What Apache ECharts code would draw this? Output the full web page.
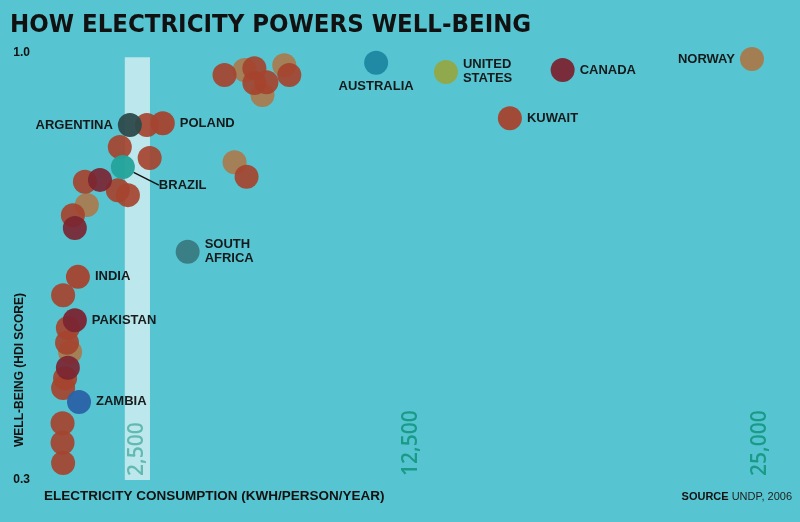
<html>
<head>
<meta charset="utf-8">
<title>How electricity powers well-being</title>
<script src="https://cdn.jsdelivr.net/npm/echarts@6/dist/echarts.min.js"></script>
</head>
<body style="margin:0">
<div id="main" style="width:800px;height:522px"></div>
<script type="text/javascript">
// labelled countries
var countries = ['NORWAY', 'CANADA', 'UNITED\nSTATES', 'AUSTRALIA', 'KUWAIT', 'ARGENTINA', 'POLAND', 'BRAZIL', 'SOUTH\nAFRICA', 'INDIA', 'PAKISTAN', 'ZAMBIA'];
var countryKwh = [24710, 17930, 13750, 11250, 16040, 2430, 3610, 2180, 4500, 570, 460, 610];
var countryHdi = [0.990, 0.972, 0.969, 0.984, 0.893, 0.882, 0.885, 0.813, 0.674, 0.633, 0.562, 0.428];

// unlabelled countries, grouped by dot colour
var redKwh = [5820, 6890, 6890, 7320, 8140, 3040, 2070, 3140, 820, 2000, 2360, 390, 6610, 40, 210, 180, 110, 40, 20, 20, 40];
var redHdi = [0.964, 0.975, 0.951, 0.952, 0.964, 0.882, 0.846, 0.828, 0.789, 0.775, 0.767, 0.734, 0.797, 0.603, 0.549, 0.525, 0.467, 0.451, 0.393, 0.361, 0.328];
var tanKwh = [6540, 7180, 7960, 890, 6180, 290];
var tanHdi = [0.972, 0.931, 0.980, 0.751, 0.821, 0.510];
var maroonKwh = [1360, 460, 210];
var maroonHdi = [0.792, 0.713, 0.484];

var xTicks = [2500, 12500, 25000];
var yTicks = [0.3, 1.0];
var band = [2250, 3150];

var RED = '#a5432f', TAN = '#a97a4c', MAROON = '#7b2532';
var countryColor = {
    'NORWAY': TAN, 'CANADA': MAROON, 'UNITED\nSTATES': '#93a845', 'AUSTRALIA': '#1e86a0',
    'KUWAIT': RED, 'ARGENTINA': '#2c4a4b', 'POLAND': RED, 'BRAZIL': '#23a39a',
    'SOUTH\nAFRICA': '#3a7b82', 'INDIA': RED, 'PAKISTAN': MAROON, 'ZAMBIA': '#2a62a8'
};
var labelPos = {'NORWAY': 'left', 'ARGENTINA': 'left', 'AUSTRALIA': 'bottom'};

function pts(xs, ys) {
    var out = [];
    for (var i = 0; i < xs.length; i++) out.push([xs[i], ys[i]]);
    return out;
}

var labelled = [];
for (var i = 0; i < countries.length; i++) {
    var n = countries[i];
    var item = {
        name: n,
        value: [countryKwh[i], countryHdi[i]],
        itemStyle: {color: countryColor[n]},
        label: {position: labelPos[n] || 'right', distance: 5}
    };
    if (n == 'AUSTRALIA') item.label.offset = [13, 0];
    if (n == 'BRAZIL') item.labelLine = {show: true, lineStyle: {color: '#111', width: 1.5}};
    labelled.push(item);
}

var font = "'Liberation Sans', Arial, sans-serif";
var narrow = "'DejaVu Sans Condensed', sans-serif";
var dot = {type: 'scatter', symbolSize: 24, emphasis: {disabled: true}};

var myChart = echarts.init(document.getElementById('main'));
myChart.setOption({
    backgroundColor: '#57c5d1',
    animation: false,
    title: [{
        text: 'HOW ELECTRICITY POWERS WELL-BEING',
        left: 10, top: 12, padding: 0,
        textStyle: {fontSize: 25.5, fontWeight: 'bold', fontFamily: narrow, color: '#111'}
    }, {
        text: 'ELECTRICITY CONSUMPTION (KWH/PERSON/YEAR)',
        left: 44, top: 489, padding: 0,
        textStyle: {fontSize: 13.5, fontWeight: 'bold', fontFamily: font, color: '#111'}
    }, {
        text: '{b|SOURCE} UNDP, 2006',
        right: 8, top: 491, padding: 0,
        textStyle: {fontSize: 11, fontWeight: 'normal', fontFamily: font, color: '#222',
            rich: {b: {fontSize: 11, fontWeight: 'bold', fontFamily: font, color: '#111'}}}
    }],
    graphic: [{
        type: 'text', x: 20, y: 370, rotation: Math.PI / 2,
        style: {text: 'WELL-BEING (HDI SCORE)', align: 'center', verticalAlign: 'middle',
            font: 'bold 12px ' + font, fill: '#111'}
    }],
    grid: {left: 62, right: 12, top: 53, bottom: 42},
    xAxis: {
        type: 'value', min: 0, max: 26000, interval: 2500, z: 3,
        axisLine: {show: false}, axisTick: {show: false}, splitLine: {show: false},
        axisLabel: {
            inside: true, rotate: 90, margin: 4, customValues: xTicks,
            formatter: function (v) {
                var s = v.toLocaleString('en-US');
                return v == 2500 ? '{pale|' + s + '}' : s;
            },
            color: '#1a9b88', fontSize: 21, fontWeight: 600, fontFamily: "'Open Sans', sans-serif",
            rich: {pale: {color: '#62b9b1', fontSize: 21, fontWeight: 600,
                fontFamily: "'Open Sans', sans-serif", padding: [10, 0, 0, 0]}}
        }
    },
    yAxis: {
        type: 'value', min: 0.3, max: 1.0,
        axisLine: {show: false}, axisTick: {show: false}, splitLine: {show: false},
        axisLabel: {
            margin: 32, customValues: yTicks,
            formatter: function (v) { return v.toFixed(1); },
            color: '#111', fontSize: 12, fontWeight: 'bold', fontFamily: font
        }
    },
    series: [{
        type: 'scatter', data: [], z: 1,
        markArea: {
            silent: true,
            itemStyle: {color: 'rgba(255,255,255,0.6)'},
            data: [[{xAxis: band[0], yAxis: 0.3}, {xAxis: band[1], yAxis: 0.993}]]
        }
    },
        Object.assign({}, dot, {data: pts(tanKwh, tanHdi), itemStyle: {color: TAN, opacity: 0.92}}),
        Object.assign({}, dot, {data: pts(redKwh, redHdi), itemStyle: {color: RED, opacity: 0.92}}),
        Object.assign({}, dot, {data: pts(maroonKwh, maroonHdi), itemStyle: {color: MAROON, opacity: 0.92}}),
        Object.assign({}, dot, {
            data: labelled,
            itemStyle: {opacity: 0.95},
            label: {
                show: true, formatter: '{b}', color: '#111', fontSize: 13, fontWeight: 'bold',
                fontFamily: font, lineHeight: 14
            },
            labelLayout: function (p) {
                if (p.text == 'BRAZIL') return {dx: 19, dy: 18};
            }
        })
    ]
});
</script>
</body>
</html>
